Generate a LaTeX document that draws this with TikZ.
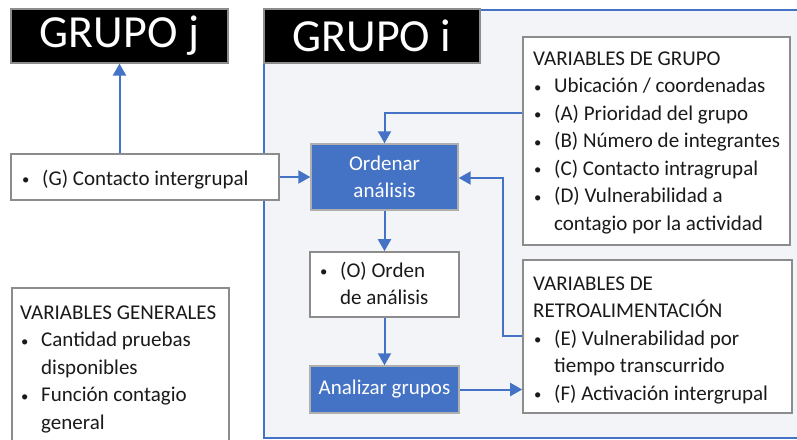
\documentclass[tikz,border=0pt]{standalone}
\usepackage{fontspec}
\setmainfont{Carlito}
\usetikzlibrary{arrows.meta}
\definecolor{myblue}{HTML}{4472C4}
\definecolor{mygray}{HTML}{8C8C8C}
\definecolor{mytext}{HTML}{1A1A1A}
\definecolor{framefill}{HTML}{F3F4F7}
\tikzset{
  txt/.style={font=\fontsize{21}{27.5}\selectfont, text=mytext},
  whitebox/.style={draw=mygray, line width=1.6pt, fill=white},
  bluebox/.style={draw=mygray!70, line width=1.4pt, fill=myblue, text=white,
    font=\fontsize{21}{27}\selectfont, align=center, inner sep=0pt},
  titlebox/.style={draw=mygray, line width=1.2pt, fill=black, text=white,
    font=\fontsize{46}{50}\selectfont, inner sep=0pt},
  conn/.style={draw=myblue, line width=2pt, -{Triangle[length=12pt,width=13pt]}},
  lbl/.style={txt, anchor=north west, inner sep=0pt, align=left},
}
\newcommand{\bul}{\makebox[21pt][l]{\hspace*{1pt}\raisebox{0.5pt}{\scalebox{0.7}{\textbullet}}}}
\newcommand{\ind}{\hspace*{21pt}}
\begin{document}
\begin{tikzpicture}[x=1pt,y=-1pt]
\useasboundingbox (0,0) rectangle (797,439);
% big frame
\fill[framefill] (264,10) rectangle (800,438);
\draw[myblue, line width=1.6pt] (800,10) -- (264,10) -- (264,438) -- (800,438);
% titles
\node[titlebox, minimum width=217pt, minimum height=54pt] (gj) at (119.5,36) {\raisebox{-5pt}{GRUPO j}};
\node[titlebox, minimum width=216pt, minimum height=54pt] (gi) at (372,36) {\raisebox{-5pt}{GRUPO i}};
% G box
\node[whitebox, minimum width=268pt, minimum height=46pt] (gbox) at (145,177) {};
\node[lbl] (gtxt) at (21,185-19.25) {\strut\bul(G) Contacto intergrupal};
% Ordenar
\node[bluebox, minimum width=147pt, minimum height=66pt] (ord) at (384.5,177) {Ordenar\\análisis};
% O box
\node[whitebox, minimum width=149pt, minimum height=65pt] (obox) at (384.5,284.5) {};
\node[lbl] (otxt) at (319,277-19.25) {\strut\bul(O) Orden\\\ind de análisis};
% Analizar
\node[bluebox, minimum width=149pt, minimum height=47pt] (anl) at (384.5,389.5) {Analizar grupos};
% VARIABLES DE GRUPO
\node[whitebox, minimum width=267pt, minimum height=208pt] (vg) at (656.5,141) {};
\node[lbl] (vgtxt) at (533,65-19.25) {\strut VARIABLES DE GRUPO\\
\bul Ubicación / coordenadas\\
\bul (A) Prioridad del grupo\\
\bul (B) Número de integrantes\\
\bul (C) Contacto intragrupal\\
\bul (D) Vulnerabilidad a\\
\ind contagio por la actividad};
% RETRO
\node[whitebox, minimum width=269pt, minimum height=153pt] (vr) at (657.5,336.5) {};
\node[lbl] (vrtxt) at (533,290-19.25) {\strut VARIABLES DE\\
RETROALIMENTACIÓN\\
\bul (E) Vulnerabilidad por\\
\ind tiempo transcurrido\\
\bul (F) Activación intergrupal};
% GENERALES
\node[whitebox, minimum width=217pt, minimum height=170pt, anchor=north west] (vgen) at (11,287) {};
\node[lbl] (vgentxt) at (20,319-19.25) {\strut VARIABLES GENERALES\\
\bul Cantidad pruebas\\
\ind disponibles\\
\bul Función contagio\\
\ind general};
% connectors
\draw[conn] (gbox.north -| gj) -- (gj.south);
\draw[conn] (gbox.east) -- (ord.west);
\draw[conn] (vg.west |- 0,113) -| (ord.north);
\draw[conn] (ord.south) -- (obox.north);
\draw[conn] (obox.south) -- (anl.north);
\draw[conn] (anl.east) -- (vr.west |- anl.east);
\draw[conn] (vr.west |- 0,336) -| (503,178) -- (ord.east |- 0,178);
\end{tikzpicture}
\end{document}
